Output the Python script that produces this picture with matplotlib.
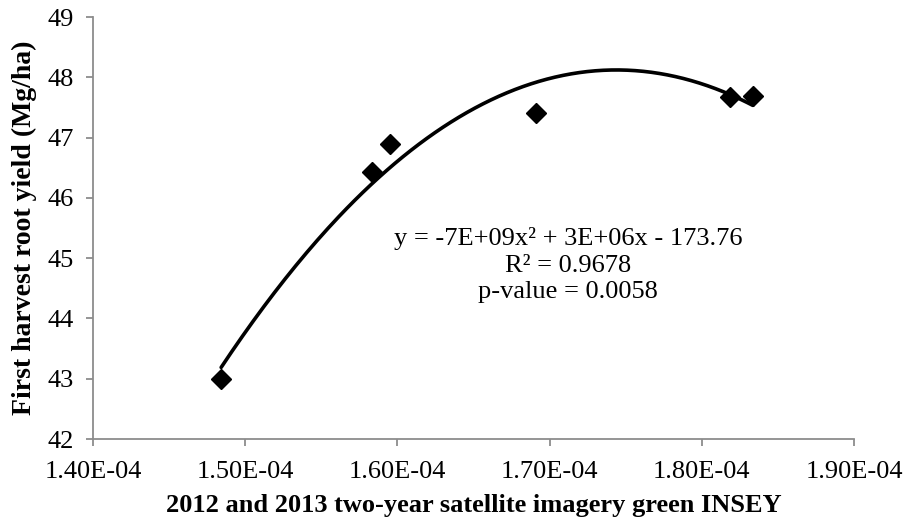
import numpy as np
import matplotlib
matplotlib.use("Agg")
import matplotlib.pyplot as plt

# Data
insey = [1.4842e-04, 1.5834e-04, 1.5949e-04, 1.6912e-04, 1.8184e-04, 1.8335e-04]
yield_mg = [42.99, 46.43, 46.89, 47.41, 47.68, 47.69]
x_ticks = [1.40e-04, 1.50e-04, 1.60e-04, 1.70e-04, 1.80e-04, 1.90e-04]
x_tick_labels = ["1.40E-04", "1.50E-04", "1.60E-04", "1.70E-04", "1.80E-04", "1.90E-04"]
y_ticks = [42, 43, 44, 45, 46, 47, 48, 49]
eq_text = "y = -7E+09x² + 3E+06x - 173.76\nR² = 0.9678\np-value = 0.0058"

plt.rcParams['font.family'] = ['Liberation Serif', 'DejaVu Serif']

fig = plt.figure(figsize=(9.05, 5.24), dpi=100)
ax = fig.add_axes([93/905, 1-439/524, (854-93)/905, (439-17)/524])

# polynomial trendline (order 2) fitted to the data
xs = np.asarray(insey)
coef = np.polyfit(xs * 1e4, yield_mg, 2)
xx = np.linspace(xs.min(), xs.max(), 200)
ax.plot(xx, np.polyval(coef, xx * 1e4), color='black', lw=2.6, solid_capstyle='round', zorder=2)

ax.plot(insey, yield_mg, linestyle='none', marker='D', markersize=10.5,
        color='black', zorder=3)

ax.set_xlim(1.40e-04, 1.90e-04)
ax.set_ylim(42, 49)
ax.set_xticks(x_ticks)
ax.set_xticklabels(x_tick_labels)
ax.set_yticks(y_ticks)

gray = '#8c8c8c'
for s in ['top', 'right']:
    ax.spines[s].set_visible(False)
for s in ['left', 'bottom']:
    ax.spines[s].set_color(gray)
    ax.spines[s].set_linewidth(1.3)
ax.tick_params(axis='both', colors=gray, labelcolor='black', labelsize=19,
               length=5, width=1.3, direction='out')
ax.tick_params(axis='x', pad=11)
ax.tick_params(axis='y', pad=9)

ax.set_xlabel("2012 and 2013 two-year satellite imagery green INSEY",
              fontsize=19, fontweight='bold', labelpad=8)
ax.set_ylabel("First harvest root yield (Mg/ha)", fontsize=20,
              fontweight='bold', labelpad=7)

ax.text(568, 524 - 265, eq_text, transform=None, fontsize=19, ha='center', va='center',
        linespacing=1.28)

fig.savefig("out.png", dpi=100)
